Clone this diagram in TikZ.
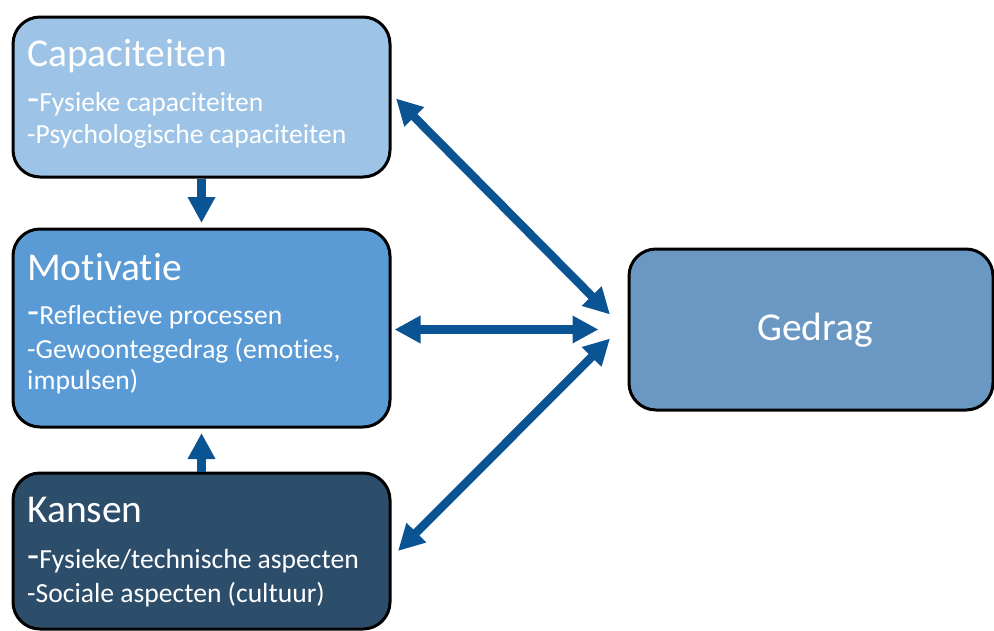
\documentclass[tikz,border=0pt]{standalone}
\usepackage{fontspec}
\setmainfont[Ligatures=NoCommon]{Carlito}
\usetikzlibrary{arrows.meta}
\definecolor{capfill}{HTML}{9DC3E6}
\definecolor{motfill}{HTML}{5B9BD5}
\definecolor{kanfill}{HTML}{2D4E6B}
\definecolor{gedfill}{HTML}{6A98C2}
\definecolor{arrowblue}{HTML}{0B5494}
\newcommand{\bigdash}{{\fontsize{39.5}{46}\selectfont -}}
\begin{document}
\begin{tikzpicture}[x=1pt,y=-1pt,
  box/.style={draw=black, line width=3pt, rounded corners=27pt, inner sep=0pt, anchor=north west},
  titletext/.style={anchor=base west, inner sep=0pt, text=white, font=\fontsize{39.5}{46}\selectfont},
  bodytext/.style={anchor=base west, inner sep=0pt, text=white, font=\fontsize{27.6}{33}\selectfont},
  tipa/.tip={Triangle[width=26pt,length=26pt]},
  conn/.style={draw=arrowblue, line width=8.5pt, -tipa},
  conntwo/.style={draw=arrowblue, line width=8.5pt, tipa-tipa}
]
\useasboundingbox (0,0) rectangle (994,630);
% boxes
\node[box, fill=capfill, minimum width=377pt, minimum height=160pt] (cap) at (11.5,15.5) {};
\node[box, fill=motfill, minimum width=377pt, minimum height=198pt] (mot) at (11.5,227.5) {};
\node[box, fill=kanfill, minimum width=377pt, minimum height=156pt] (kan) at (11.5,471.5) {};
\node[box, fill=gedfill, minimum width=364pt, minimum height=161pt] (ged) at (627.5,247.5) {};
% texts
\node[titletext] (captitle) at (27,66) {Capaciteiten};
\node[bodytext] (capline1) at (27,111) {\bigdash Fysieke capaciteiten};
\node[bodytext] (capline2) at (27,143) {-Psychologische capaciteiten};
\node[titletext] (mottitle) at (27,280) {Motivatie};
\node[bodytext] (motline1) at (27,324) {\bigdash Reflectieve processen};
\node[bodytext] (motline2) at (27,358) {-Gewoontegedrag (emoties,};
\node[bodytext] (motline3) at (27,389) {impulsen)};
\node[titletext] (kantitle) at (27,522) {Kansen};
\node[bodytext] (kanline1) at (27,568) {\bigdash Fysieke/technische aspecten};
\node[bodytext] (kanline2) at (27,602) {-Sociale aspecten (cultuur)};
\node[titletext, anchor=base] (gedtext) at (815,340) {Gedrag};
% connectors
\draw[conn] (cap.south) -- ([yshift=4.5pt]mot.north);
\draw[conn] (kan.north) -- ([yshift=-4.5pt]mot.south);
\draw[conntwo] ([xshift=3pt]mot.east |- ged.west) -- ([xshift=-29pt]ged.west);
\draw[conntwo] ([xshift=4.5pt,yshift=-1.5pt]cap.east) -- ([xshift=-17.5pt,yshift=15pt]ged.west);
\draw[conntwo] ([xshift=-17.5pt,yshift=-9pt]ged.west) -- ([xshift=6.5pt]kan.east);
\end{tikzpicture}
\end{document}
